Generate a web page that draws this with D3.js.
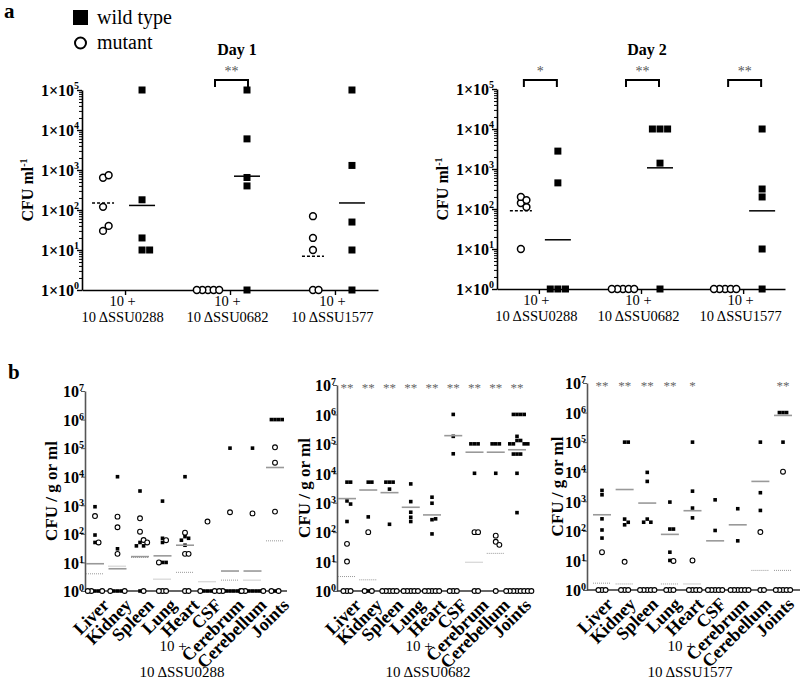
<!DOCTYPE html>
<html><head><meta charset="utf-8">
<script src="https://cdn.jsdelivr.net/npm/d3@7"></script>
<style>body{margin:0;background:#fff} svg{display:block} text{font-family:"Liberation Serif","Times New Roman","DejaVu Serif",serif}</style>
</head><body><svg width="800" height="681" font-family="Liberation Serif, Times New Roman, serif"></svg>
<script>
// ---------- Panel a data ----------
const strains = ["ΔSSU0288", "ΔSSU0682", "ΔSSU1577"];
const day1Wild = [[1e5, 180, 20, 10, 10], [1e5, 6000, 650, 400, 1], [1e5, 1300, 50, 10, 1]];
const day1Mutant = [[640, 740, 120, 30, 40], [1, 1, 1, 1, 1], [70, 20, 10, 1, 1]];
const day1WildMean = [130, 700, 150];
const day1MutantMean = [150, null, 7];
const day1Sig = [null, "**", null];
const day2Wild = [[2800, 450, 1, 1, 1], [1e4, 1e4, 1e4, 1400, 1], [1e4, 316, 200, 10, 1]];
const day2Mutant = [[141, 200, 112, 167, 10], [1, 1, 1, 1, 1], [1, 1, 1, 1, 1]];
const day2WildMean = [17, 1070, 90];
const day2MutantMean = [90, null, null];
const day2Sig = ["*", "**", "**"];
const dayTicksA = [1, 10, 100, 1000, 1e4, 1e5];

// ---------- Panel b data ----------
const organs = ["Liver", "Kidney", "Spleen", "Lung", "Heart", "CSF", "Cerebrum", "Cerebellum", "Joints"];
const b1Wild = [[890, 91, 50, 1, 1], [1e4, 30, 1, 1, 1], [3160, 50, 38, 38, 1], [1400, 70, 50, 10, 10], [1e4, 80, 70, 60, 40], [1, 1, 1], [1e5, 1, 1, 1, 1], [1e5, 1, 1, 1, 1], [1e6, 1e6, 1e6, 1e6, 1]];
const b1Mutant = [[420, 50, 1, 1, 1], [400, 170, 20, 1, 1], [350, 119, 61, 50, 1], [60, 10, 1, 1, 1], [110, 20, 20, 1, 1], [270, 1, 1], [570, 1, 1, 1], [520, 1, 1, 1], [1.07e5, 3.1e4, 600, 1, 1]];
const b1WildMean = [9, 6, 16, 17, 40, null, 5, 5, 21000];
const b1MutantMean = [4, 7.4, 15, 2.6, 4.5, 2.1, 2.4, 2.4, 57];
const b1Sig = [null, null, null, null, null, null, null, null, null];

const b2Wild = [[5000, 5000, 1150, 900, 230], [5000, 5000, 330, 1], [5000, 5000, 5000, 2900, 185], [4350, 1090, 475, 320, 230], [1540, 960, 265, 283, 87], [1e6, 1.8e5, 46000], [1e5, 1e5, 1e5, 1e4], [1e5, 1e5, 1e5, 1e4], [1e6, 1e6, 1e6, 1e6, 1.8e5, 1.3e5, 1.3e5, 1e5, 1e5, 1e5, 1e5, 4.5e4, 4.5e4, 4.5e4, 1e4, 460]];
const b2Mutant = [[40, 10, 1, 1, 1], [100, 1, 1], [1, 1, 1, 1, 1], [1, 1, 1, 1, 1], [1, 1, 1, 1, 1], [1, 1, 1], [100, 100, 1, 1], [76, 47, 37, 1], [1, 1, 1, 1, 1, 1, 1, 1]];
const b2WildMean = [1380, 2700, 2200, 700, 385, 1.9e5, 52000, 52000, 63000];
const b2MutantMean = [3.1, 2.4, null, null, null, null, 9.5, 19, null];
const b2Sig = ["**", "**", "**", "**", "**", "**", "**", "**", "**"];

const b3Wild = [[2330, 1660, 255, 107, 57], [1e5, 1e5, 250, 195, 160], [9500, 4700, 250, 196, 196], [940, 115, 115, 19, 10], [1e5, 2200, 590, 275], [1120, 103], [560, 46], [1e5, 1950, 490], [1e6, 1e6, 1e6, 1e5]];
const b3Mutant = [[19, 1, 1, 1], [9, 1, 1, 1], [1, 1, 1, 1, 1], [9.6, 1, 1, 1], [10, 1, 1, 1, 1], [1, 1, 1, 1, 1], [1, 1, 1, 1, 1, 1], [91, 1, 1], [1e4, 1, 1, 1, 1, 1]];
const b3WildMean = [350, 2500, 870, 76, 480, 46, 160, 4700, 8e5];
const b3MutantMean = [1.7, 1.6, null, 1.6, 1.6, null, null, 4.6, 4.6];
const b3Sig = ["**", "**", "**", "**", "*", null, null, null, "**"];
const organTicks = [1, 10, 100, 1e3, 1e4, 1e5, 1e6, 1e7];

const FONT = '"Liberation Serif","Times New Roman",serif';
const svg = d3.select("svg");

// simple beeswarm: horizontal offsets so markers don't overlap
function swarm(pts, d, step) {
  const placed = [];
  pts.forEach(p => {
    for (let k = 0; k < 80; k++) {
      const off = k === 0 ? 0 : (k % 2 ? 1 : -1) * Math.ceil(k / 2) * step;
      if (placed.every(q => Math.hypot(q.off - off, q.py - p.py) >= d - 0.01)) { p.off = off; placed.push(p); break; }
    }
  });
  return pts;
}

function supText(sel, base, exp, sfs, dy) {
  sel.text(null);
  sel.append("tspan").text(base);
  sel.append("tspan").attr("dy", dy).attr("font-size", sfs).text(exp);
}

// ---------- Panel a ----------
function drawDay(cfg) {
  const y = d3.scaleLog().domain([1, 1e5]).range([cfg.yBot, cfg.yTop]);
  const x = d3.scalePoint().domain(strains).range([cfg.x0, cfg.x1]).padding(0.41);
  const g = svg.append("g");
  const minor = [];
  for (let e = 0; e < 5; e++) for (let m = 2; m <= 9; m++) minor.push(m * Math.pow(10, e));
  g.append("g").attr("transform", `translate(${cfg.x0},0)`)
    .call(d3.axisLeft(y).tickValues(minor).tickSize(3).tickFormat(""))
    .call(a => a.select(".domain").remove())
    .selectAll("line").attr("stroke", "#000").attr("stroke-width", 1);
  const ya = g.append("g").attr("transform", `translate(${cfg.x0},0)`)
    .call(d3.axisLeft(y).tickValues(dayTicksA).tickSize(5).tickSizeOuter(0).tickFormat(""));
  ya.select(".domain").attr("stroke-width", 1.6);
  ya.selectAll(".tick line").attr("stroke-width", 1.4);
  ya.selectAll(".tick").append("text")
    .attr("x", -3).attr("dy", "0.36em").attr("text-anchor", "end")
    .attr("font-size", 16).attr("font-weight", "bold").attr("fill", "#000").attr("font-family", FONT)
    .each(function (d) { supText(d3.select(this), "1×10", String(Math.round(Math.log10(d))), 10, -7); });
  const xa = g.append("g").attr("transform", `translate(0,${cfg.yBot})`)
    .call(d3.axisBottom(x).tickSize(5).tickSizeOuter(0).tickFormat(""));
  xa.select(".domain").attr("stroke-width", 1.6);
  xa.selectAll(".tick line").attr("stroke-width", 1.4);
  xa.selectAll(".tick").each(function (d) {
    const t = d3.select(this);
    t.append("text").attr("x", -3).attr("y", 15.5).attr("text-anchor", "middle").attr("font-size", 14.5).attr("fill", "#000")
      .attr("font-family", FONT).text("10   +");
    t.append("text").attr("x", -3).attr("y", 32).attr("text-anchor", "middle").attr("font-size", 14.5).attr("fill", "#000")
      .attr("font-family", FONT).text("10 " + d);
  });
  // y title
  g.append("text").attr("transform", `translate(${cfg.titleX},${(cfg.yTop + cfg.yBot) / 2}) rotate(-90)`)
    .attr("text-anchor", "middle").attr("font-size", 16).attr("font-weight", "bold")
    .call(s => { s.append("tspan").text("CFU ml"); s.append("tspan").attr("dy", -6).attr("font-size", 10).text("-1"); });
  // day title
  g.append("text").attr("x", cfg.dayX).attr("y", 55).attr("text-anchor", "middle")
    .attr("font-size", 16).attr("font-weight", "bold").text(cfg.title);

  strains.forEach((s, i) => {
    const cx = x(s);
    const mpts = swarm(cfg.mutant[i].map(v => ({ v, py: y(v) })), 5.6, 5.6);
    g.selectAll(null).data(mpts).join("circle")
      .attr("cx", p => cx + cfg.mutOff + p.off).attr("cy", p => p.py).attr("r", 3.4)
      .attr("fill", "#fff").attr("stroke", "#000").attr("stroke-width", 1.5);
    const wpts = swarm(cfg.wild[i].map(v => ({ v, py: y(v) })), 7.6, 7.6);
    g.selectAll(null).data(wpts).join("rect")
      .attr("x", p => cx + cfg.wtOff + p.off - 3.5).attr("y", p => p.py - 3.5)
      .attr("width", 7).attr("height", 7).attr("fill", "#000");
    if (cfg.mutMean[i] != null)
      g.append("line").attr("x1", cx + cfg.mutOff - 11).attr("x2", cx + cfg.mutOff + 11)
        .attr("y1", y(cfg.mutMean[i])).attr("y2", y(cfg.mutMean[i]))
        .attr("stroke", "#000").attr("stroke-width", 1.5).attr("stroke-dasharray", "3,2");
    if (cfg.wildMean[i] != null)
      g.append("line").attr("x1", cx + cfg.wtOff - 13).attr("x2", cx + cfg.wtOff + 13)
        .attr("y1", y(cfg.wildMean[i])).attr("y2", y(cfg.wildMean[i]))
        .attr("stroke", "#000").attr("stroke-width", 1.5);
    if (cfg.sig[i]) {
      const bx0 = cx - 15, bx1 = cx + 18, by = 80;
      g.append("path").attr("d", `M${bx0},${by + 7}V${by}H${bx1}V${by + 7}`)
        .attr("fill", "none").attr("stroke", "#000").attr("stroke-width", 2);
      g.append("text").attr("x", (bx0 + bx1) / 2).attr("y", by - 4).attr("text-anchor", "middle")
        .attr("font-size", 14).attr("fill", "#555").text(cfg.sig[i]);
    }
  });
}

drawDay({ x0: 82, x1: 378, yTop: 90, yBot: 290, titleX: 33, dayX: 237, title: "Day 1",
  wild: day1Wild, mutant: day1Mutant, wildMean: day1WildMean, mutMean: day1MutantMean, sig: day1Sig,
  mutOff: -22, wtOff: 17 });
drawDay({ x0: 497, x1: 785, yTop: 89, yBot: 289, titleX: 448, dayX: 647, title: "Day 2",
  wild: day2Wild, mutant: day2Mutant, wildMean: day2WildMean, mutMean: day2MutantMean, sig: day2Sig,
  mutOff: -18, wtOff: 19 });

// legend & panel letters
svg.append("text").attr("x", 4).attr("y", 18).attr("font-size", 21).attr("font-weight", "bold").text("a");
svg.append("rect").attr("x", 73).attr("y", 10).attr("width", 15).attr("height", 15).attr("fill", "#000");
svg.append("text").attr("x", 97).attr("y", 24).attr("font-size", 20).text("wild type");
svg.append("circle").attr("cx", 80.5).attr("cy", 43).attr("r", 5.5).attr("fill", "#fff").attr("stroke", "#000").attr("stroke-width", 2);
svg.append("text").attr("x", 97).attr("y", 49).attr("font-size", 20).text("mutant");
svg.append("text").attr("x", 8).attr("y", 379).attr("font-size", 21).attr("font-weight", "bold").text("b");

// ---------- Panel b ----------
function drawOrgans(cfg) {
  const y = d3.scaleLog().domain([1, 1e7]).range([cfg.yBot, cfg.yTop]);
  const x = d3.scalePoint().domain(organs).range([cfg.c0, cfg.c1]);
  const g = svg.append("g");
  const ya = g.append("g").attr("transform", `translate(${cfg.x0},0)`)
    .call(d3.axisLeft(y).tickValues(organTicks).tickSize(4).tickSizeOuter(0).tickFormat(""));
  ya.attr("color", "#555");
  ya.select(".domain").attr("stroke-width", 1.6);
  ya.selectAll(".tick").append("text")
    .attr("x", -1).attr("dy", "0.36em").attr("text-anchor", "end")
    .attr("font-size", 16).attr("font-weight", "bold").attr("fill", "#000").attr("font-family", FONT)
    .each(function (d) { supText(d3.select(this), "10", String(Math.round(Math.log10(d))), 10, -6); });
  g.append("line").attr("x1", cfg.x0).attr("x2", cfg.x1).attr("y1", cfg.yBot).attr("y2", cfg.yBot)
    .attr("stroke", "#333").attr("stroke-width", 1.6);
  g.append("text").attr("transform", `translate(${cfg.titleX},${(cfg.yTop + cfg.yBot) / 2}) rotate(-90)`)
    .attr("text-anchor", "middle").attr("font-size", 17).attr("font-weight", "bold").text("CFU / g or ml");
  organs.forEach((o, i) => {
    const cx = x(o);
    g.append("text").attr("transform", `translate(${cx + cfg.labShift},${cfg.yBot + 6}) rotate(-45)`)
      .attr("text-anchor", "end").attr("dy", "0.72em").attr("font-size", 18).attr("font-weight", "bold").text(o);
    const pts = swarm(
      cfg.wild[i].map(v => ({ v, py: y(v), t: "w" })).concat(cfg.mutant[i].map(v => ({ v, py: y(v), t: "m" }))),
      3.6, 3.6);
    g.selectAll(null).data(pts.filter(p => p.t === "w")).join("rect")
      .attr("x", p => cx + p.off - 1.8).attr("y", p => p.py - 1.8).attr("width", 3.6).attr("height", 3.6).attr("fill", "#000");
    g.selectAll(null).data(pts.filter(p => p.t === "m")).join("circle")
      .attr("cx", p => cx + p.off).attr("cy", p => p.py).attr("r", 2.4)
      .attr("fill", "#fff").attr("stroke", "#000").attr("stroke-width", 1.1);
    if (cfg.wildMean[i] != null)
      g.append("line").attr("x1", cx - 9).attr("x2", cx + 9).attr("y1", y(cfg.wildMean[i])).attr("y2", y(cfg.wildMean[i]))
        .attr("stroke", "#999").attr("stroke-width", 1.6);
    if (cfg.mutMean[i] != null)
      g.append("line").attr("x1", cx - 9).attr("x2", cx + 9).attr("y1", y(cfg.mutMean[i])).attr("y2", y(cfg.mutMean[i]))
        .attr("stroke", "#999").attr("stroke-width", 1).attr("stroke-dasharray", "1,1");
    if (cfg.sig[i])
      g.append("text").attr("x", cx).attr("y", cfg.yTop + 7).attr("text-anchor", "middle")
        .attr("font-size", 13).attr("fill", "#666").text(cfg.sig[i]);
  });
  g.append("text").attr("x", cfg.labX - 9).attr("y", 651).attr("text-anchor", "middle").attr("font-size", 15).text("10   +");
  g.append("text").attr("x", cfg.labX).attr("y", 677).attr("text-anchor", "middle").attr("font-size", 15).text("10 " + cfg.strain);
}

drawOrgans({ x0: 85, x1: 287, c0: 95, c1: 275, yTop: 391, yBot: 591, titleX: 57, labX: 182, labShift: 6, strain: strains[0],
  wild: b1Wild, mutant: b1Mutant, wildMean: b1WildMean, mutMean: b1MutantMean, sig: b1Sig });
drawOrgans({ x0: 337, x1: 526, c0: 347, c1: 517, yTop: 385, yBot: 591, titleX: 310, labX: 428, labShift: 6, strain: strains[1],
  wild: b2Wild, mutant: b2Mutant, wildMean: b2WildMean, mutMean: b2MutantMean, sig: b2Sig });
drawOrgans({ x0: 587, x1: 800, c0: 602, c1: 783, yTop: 383, yBot: 590, titleX: 563, labX: 690, labShift: 3, strain: strains[2],
  wild: b3Wild, mutant: b3Mutant, wildMean: b3WildMean, mutMean: b3MutantMean, sig: b3Sig });
</script></body></html>
